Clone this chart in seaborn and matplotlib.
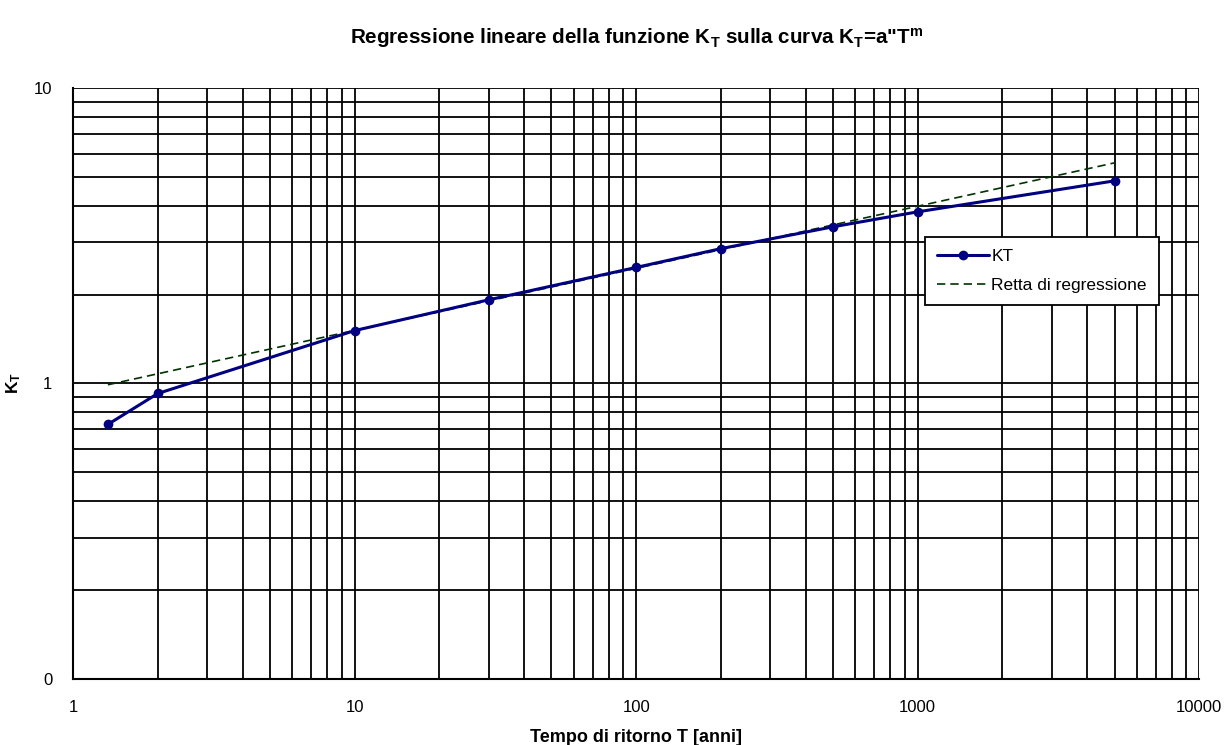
import seaborn as sns
import matplotlib
matplotlib.use("Agg")
import matplotlib.pyplot as plt
import matplotlib.ticker as mticker
import pandas as pd

# valori
T_anni = [1.33, 2, 10, 30, 100, 200, 500, 1000, 5000]
K_T = [0.727, 0.925, 1.51, 1.92, 2.47, 2.86, 3.39, 3.81, 4.85]

# estremi della retta di regressione (K_T = a*T^m, retta in log-log)
T_retta = [1.33, 5000]
K_retta = [0.99, 5.58]

sns.set_style("white")
plt.rcParams['font.family'] = ['Liberation Sans', 'DejaVu Sans']
plt.rcParams['mathtext.default'] = 'regular'
plt.rcParams['text.color'] = 'black'
plt.rcParams['axes.labelcolor'] = 'black'
plt.rcParams['xtick.color'] = 'black'
plt.rcParams['ytick.color'] = 'black'

df_kt = pd.DataFrame({"T": T_anni, "K": K_T})
df_retta = pd.DataFrame({"T": T_retta, "K": K_retta})

fig = plt.figure(figsize=(12.25, 7.45), dpi=100)
ax = fig.add_axes([0.0596, 0.0886, 0.9194, 0.7933])

sns.lineplot(data=df_kt, x="T", y="K", ax=ax, color="#000080", linewidth=2.2,
             marker="o", markersize=7, markeredgewidth=0, label="KT", zorder=4)
sns.lineplot(data=df_retta, x="T", y="K", ax=ax, color="#003300", linewidth=1.2,
             linestyle=(0, (5, 3)), label="Retta di regressione", zorder=3)

ax.set_xscale("log")
ax.set_yscale("log")
ax.set_xlim(1, 10000)
ax.set_ylim(0.1, 10)

ax.xaxis.set_major_locator(mticker.FixedLocator([1, 10, 100, 1000, 10000]))
ax.xaxis.set_major_formatter(mticker.FixedFormatter(["1", "10", "100", "1000", "10000"]))
ax.yaxis.set_major_locator(mticker.FixedLocator([0.1, 1, 10]))
ax.yaxis.set_major_formatter(mticker.FixedFormatter(["0", "1", "10"]))
ax.xaxis.set_minor_locator(mticker.LogLocator(base=10, subs=range(2, 10)))
ax.yaxis.set_minor_locator(mticker.LogLocator(base=10, subs=range(2, 10)))
ax.xaxis.set_minor_formatter(mticker.NullFormatter())
ax.yaxis.set_minor_formatter(mticker.NullFormatter())

ax.grid(True, which="both", color="black", linewidth=1.3)
ax.tick_params(which="major", direction="out", length=5, width=1.3,
               labelsize=12, pad=10)
ax.tick_params(which="minor", length=0)
for s in ax.spines.values():
    s.set_visible(False)
ax.spines["left"].set_visible(True)
ax.spines["bottom"].set_visible(True)
ax.spines["left"].set_linewidth(1.5)
ax.spines["bottom"].set_linewidth(1.5)
ax.spines["left"].set_color("black")
ax.spines["bottom"].set_color("black")

ax.set_title('Regressione lineare della funzione K$_T$ sulla curva K$_T$=a"T$^m$',
             fontsize=14.9, fontweight="bold", pad=32)
ax.set_xlabel("Tempo di ritorno T [anni]", fontsize=13, fontweight="bold", labelpad=10)
ax.set_ylabel("K$_T$", fontsize=12.5, fontweight="bold", labelpad=8)

leg = ax.legend(loc="upper left", bbox_to_anchor=(0.7567, 0.748), borderaxespad=0,
                frameon=True, fancybox=False, edgecolor="black", fontsize=12.5,
                handlelength=3.0, borderpad=0.7, labelspacing=0.8, handletextpad=0.1)
leg.get_frame().set_linewidth(1.3)
leg.get_frame().set_alpha(1)

plt.savefig("out.png", dpi=100)
